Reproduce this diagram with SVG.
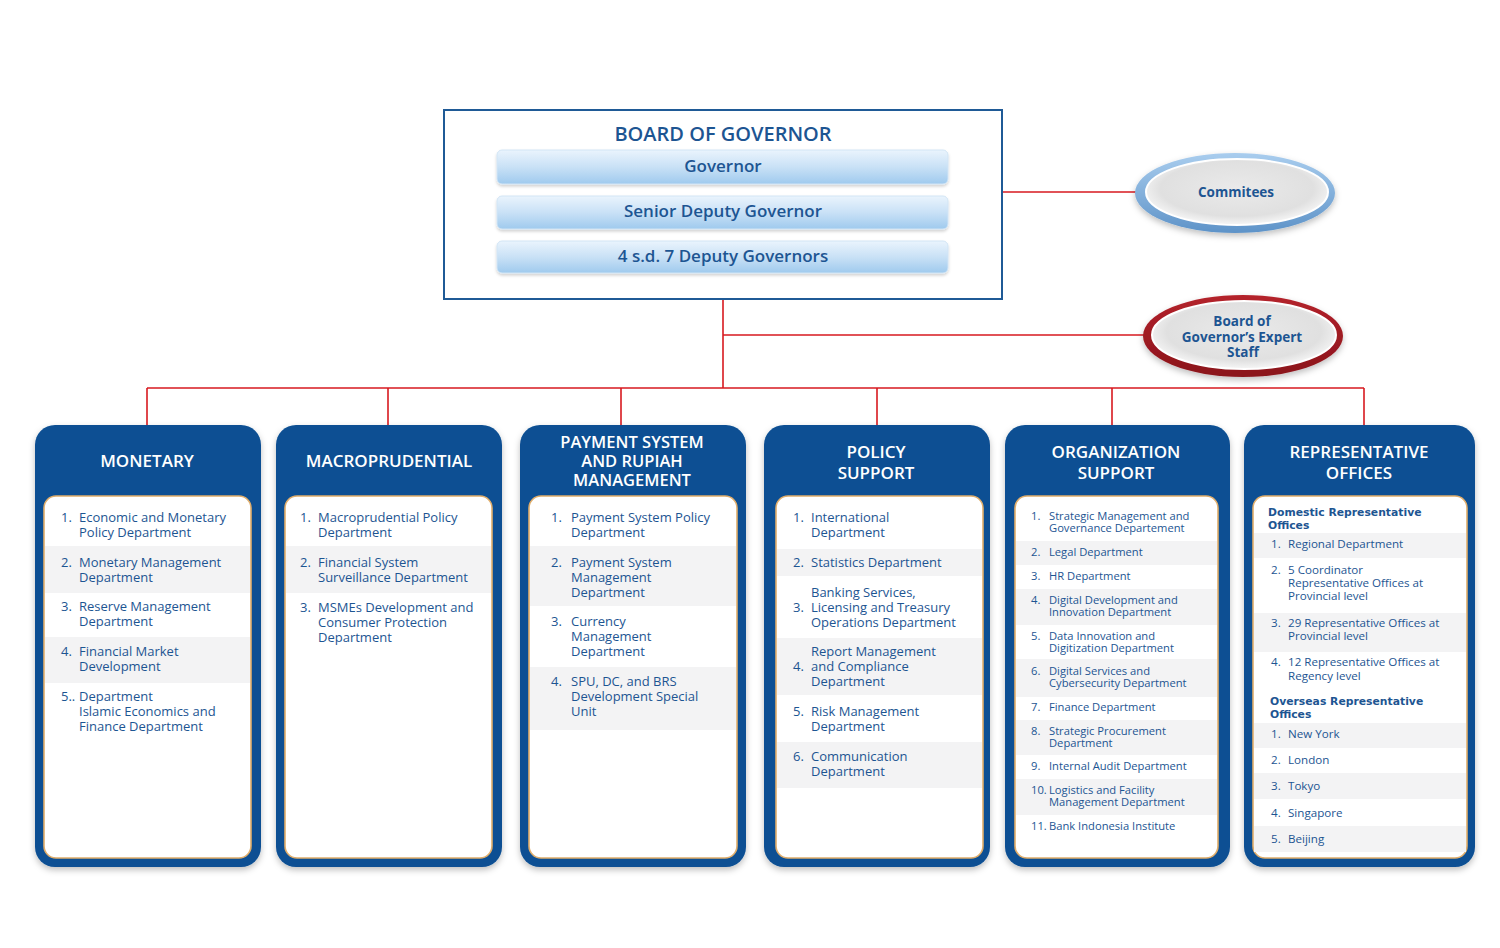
<svg xmlns="http://www.w3.org/2000/svg" width="1500" height="948" viewBox="0 0 1500 948">
<defs>
<style>
.it{font-family:"Open Sans","Liberation Sans",sans-serif;font-size:13px;fill:#1d5592}
.sm{font-family:"Open Sans","Liberation Sans",sans-serif;font-size:11.2px;fill:#1d5592}
.rp{font-family:"Open Sans","Liberation Sans",sans-serif;font-size:11.6px;fill:#1d5592}
.hd{font-family:"DejaVu Sans","Liberation Sans",sans-serif;font-size:10.8px;font-weight:bold;fill:#1d5592}
.ch{font-family:"Open Sans","Liberation Sans",sans-serif;font-size:17px;font-weight:600;fill:#ffffff;text-anchor:middle}
.ch3{font-family:"Open Sans","Liberation Sans",sans-serif;font-size:16.5px;font-weight:600;fill:#ffffff;text-anchor:middle}
.bt{font-family:"Open Sans","Liberation Sans",sans-serif;font-size:17px;font-weight:600;fill:#1d5592;text-anchor:middle}
.tt{font-family:"Open Sans","Liberation Sans",sans-serif;font-size:20px;font-weight:600;fill:#1d5592;text-anchor:middle}
.el{font-family:"Open Sans","Liberation Sans",sans-serif;font-size:13.5px;font-weight:bold;fill:#1d5592;text-anchor:middle}
.outer{fill:#0b4f93}
.inner{fill:#ffffff;stroke:#e0ad6a;stroke-width:1.6}
.band{fill:#f3f3f4}
.bar{fill:url(#barg);stroke:#d2e5f5;stroke-width:1}
.cn{stroke:#d7191f;stroke-width:1.6;fill:none}
</style>
<linearGradient id="barg" x1="0" y1="0" x2="0" y2="1">
<stop offset="0" stop-color="#eaf4fd"/>
<stop offset="0.5" stop-color="#c9e1f6"/>
<stop offset="1" stop-color="#9fcaee"/>
</linearGradient>
<radialGradient id="elin" cx="0.5" cy="0.45" r="0.6">
<stop offset="0" stop-color="#eaeaea"/>
<stop offset="0.7" stop-color="#e0e0e0"/>
<stop offset="1" stop-color="#ffffff"/>
</radialGradient>
<linearGradient id="blring" x1="0" y1="0" x2="0" y2="1">
<stop offset="0" stop-color="#a9cdee"/>
<stop offset="1" stop-color="#5e93c8"/>
</linearGradient>
<linearGradient id="rdring" x1="0" y1="0" x2="0" y2="1">
<stop offset="0" stop-color="#b4222b"/>
<stop offset="1" stop-color="#8a141b"/>
</linearGradient>
<filter id="sh" x="-10%" y="-10%" width="120%" height="125%">
<feDropShadow dx="0" dy="3" stdDeviation="3" flood-color="#000" flood-opacity="0.25"/>
</filter>
<filter id="bsh" x="-5%" y="-20%" width="110%" height="150%">
<feDropShadow dx="0" dy="2" stdDeviation="1.5" flood-color="#000" flood-opacity="0.18"/>
</filter>
</defs>
<rect width="1500" height="948" fill="#ffffff"/>

<g id="connectors">
<line class="cn" x1="722" y1="184" x2="722" y2="196"/>
<line class="cn" x1="722" y1="229" x2="722" y2="242"/>
<line class="cn" x1="1002" y1="192" x2="1137" y2="192"/>
<line class="cn" x1="723" y1="299" x2="723" y2="388"/>
<line class="cn" x1="723" y1="335" x2="1146" y2="335"/>
<line class="cn" x1="147" y1="388" x2="1364" y2="388"/>
<line class="cn" x1="147" y1="388" x2="147" y2="426"/>
<line class="cn" x1="388" y1="388" x2="388" y2="426"/>
<line class="cn" x1="621" y1="388" x2="621" y2="426"/>
<line class="cn" x1="877" y1="388" x2="877" y2="426"/>
<line class="cn" x1="1112" y1="388" x2="1112" y2="426"/>
<line class="cn" x1="1364" y1="388" x2="1364" y2="426"/>
</g>

<g id="board">
<rect x="444" y="110" width="558" height="189" fill="#ffffff" stroke="#1f5a96" stroke-width="2"/>
<text class="tt" x="723" y="141">BOARD OF GOVERNOR</text>
<rect class="bar" x="497" y="150" width="451" height="34" rx="5" filter="url(#bsh)"/>
<text class="bt" x="723" y="172">Governor</text>
<rect class="bar" x="497" y="196" width="451" height="33" rx="5" filter="url(#bsh)"/>
<text class="bt" x="723" y="217">Senior Deputy Governor</text>
<rect class="bar" x="497" y="241" width="451" height="32" rx="5" filter="url(#bsh)"/>
<text class="bt" x="723" y="262">4 s.d. 7 Deputy Governors</text>
</g>

<g id="committees">
<ellipse cx="1235" cy="193" rx="100" ry="40" fill="url(#blring)" filter="url(#sh)"/>
<ellipse cx="1237" cy="192" rx="91" ry="33" fill="url(#elin)" stroke="#ffffff" stroke-width="2"/>
<text class="el" x="1236" y="197">Commitees</text>
</g>

<g id="expert-staff">
<ellipse cx="1243" cy="336" rx="100" ry="41" fill="url(#rdring)" filter="url(#sh)"/>
<ellipse cx="1244" cy="335" rx="92" ry="34" fill="url(#elin)" stroke="#ffffff" stroke-width="2"/>
<text class="el" x="1242" y="326">Board of</text>
<text class="el" x="1242" y="342">Governor’s Expert</text>
<text class="el" x="1243" y="357">Staff</text>
</g>

<g id="monetary">
<rect class="outer" x="35" y="425" width="226" height="442" rx="20" filter="url(#sh)"/>
<text class="ch" x="147" y="467">MONETARY</text>
<rect class="inner" x="44" y="496" width="207" height="362" rx="12"/>
<rect class="band" x="45" y="546" width="205" height="47"/>
<rect class="band" x="45" y="637" width="205" height="46"/>
<text class="it" x="61" y="522">1.</text><text class="it" x="79" y="522">Economic and Monetary</text><text class="it" x="79" y="537">Policy Department</text>
<text class="it" x="61" y="567">2.</text><text class="it" x="79" y="567">Monetary Management</text><text class="it" x="79" y="582">Department</text>
<text class="it" x="61" y="611">3.</text><text class="it" x="79" y="611">Reserve Management</text><text class="it" x="79" y="626">Department</text>
<text class="it" x="61" y="656">4.</text><text class="it" x="79" y="656">Financial Market</text><text class="it" x="79" y="671">Development</text>
<text class="it" x="61" y="701">5..</text><text class="it" x="79" y="701">Department</text><text class="it" x="79" y="716">Islamic Economics and</text><text class="it" x="79" y="731">Finance Department</text>
</g>

<g id="macroprudential">
<rect class="outer" x="276" y="425" width="226" height="442" rx="20" filter="url(#sh)"/>
<text class="ch" x="389" y="467">MACROPRUDENTIAL</text>
<rect class="inner" x="285" y="496" width="207" height="362" rx="12"/>
<rect class="band" x="286" y="546" width="205" height="47"/>
<text class="it" x="300" y="522">1.</text><text class="it" x="318" y="522">Macroprudential Policy</text><text class="it" x="318" y="537">Department</text>
<text class="it" x="300" y="567">2.</text><text class="it" x="318" y="567">Financial System</text><text class="it" x="318" y="582">Surveillance Department</text>
<text class="it" x="300" y="612">3.</text><text class="it" x="318" y="612">MSMEs Development and</text><text class="it" x="318" y="627">Consumer Protection</text><text class="it" x="318" y="642">Department</text>
</g>

<g id="payment-system">
<rect class="outer" x="520" y="425" width="226" height="442" rx="20" filter="url(#sh)"/>
<text class="ch3" x="632" y="448">PAYMENT SYSTEM</text>
<text class="ch3" x="632" y="467">AND RUPIAH</text>
<text class="ch3" x="632" y="486">MANAGEMENT</text>
<rect class="inner" x="529" y="496" width="208" height="362" rx="12"/>
<rect class="band" x="530" y="546" width="206" height="60"/>
<rect class="band" x="530" y="667" width="206" height="63"/>
<text class="it" x="551" y="522">1.</text><text class="it" x="571" y="522">Payment System Policy</text><text class="it" x="571" y="537">Department</text>
<text class="it" x="551" y="567">2.</text><text class="it" x="571" y="567">Payment System</text><text class="it" x="571" y="582">Management</text><text class="it" x="571" y="597">Department</text>
<text class="it" x="551" y="626">3.</text><text class="it" x="571" y="626">Currency</text><text class="it" x="571" y="641">Management</text><text class="it" x="571" y="656">Department</text>
<text class="it" x="551" y="686">4.</text><text class="it" x="571" y="686">SPU, DC, and BRS</text><text class="it" x="571" y="701">Development Special</text><text class="it" x="571" y="716">Unit</text>
</g>

<g id="policy-support">
<rect class="outer" x="764" y="425" width="226" height="442" rx="20" filter="url(#sh)"/>
<text class="ch" x="876" y="458">POLICY</text>
<text class="ch" x="876" y="479">SUPPORT</text>
<rect class="inner" x="776" y="496" width="207" height="362" rx="12"/>
<rect class="band" x="777" y="549" width="205" height="27"/>
<rect class="band" x="777" y="638" width="205" height="57"/>
<rect class="band" x="777" y="742" width="205" height="46"/>
<text class="it" x="793" y="522">1.</text><text class="it" x="811" y="522">International</text><text class="it" x="811" y="537">Department</text>
<text class="it" x="793" y="567">2.</text><text class="it" x="811" y="567">Statistics Department</text>
<text class="it" x="811" y="597">Banking Services,</text><text class="it" x="793" y="612">3.</text><text class="it" x="811" y="612">Licensing and Treasury</text><text class="it" x="811" y="627">Operations Department</text>
<text class="it" x="811" y="656">Report Management</text><text class="it" x="793" y="671">4.</text><text class="it" x="811" y="671">and Compliance</text><text class="it" x="811" y="686">Department</text>
<text class="it" x="793" y="716">5.</text><text class="it" x="811" y="716">Risk Management</text><text class="it" x="811" y="731">Department</text>
<text class="it" x="793" y="761">6.</text><text class="it" x="811" y="761">Communication</text><text class="it" x="811" y="776">Department</text>
</g>

<g id="organization-support">
<rect class="outer" x="1005" y="425" width="225" height="442" rx="20" filter="url(#sh)"/>
<text class="ch" x="1116" y="458">ORGANIZATION</text>
<text class="ch" x="1116" y="479">SUPPORT</text>
<rect class="inner" x="1015" y="496" width="203" height="362" rx="12"/>
<rect class="band" x="1016" y="541" width="201" height="24"/>
<rect class="band" x="1016" y="589" width="201" height="36"/>
<rect class="band" x="1016" y="659" width="201" height="38"/>
<rect class="band" x="1016" y="720" width="201" height="35"/>
<rect class="band" x="1016" y="779" width="201" height="36"/>
<text class="sm" x="1031" y="520">1.</text><text class="sm" x="1049" y="520">Strategic Management and</text><text class="sm" x="1049" y="532">Governance Departement</text>
<text class="sm" x="1031" y="556">2.</text><text class="sm" x="1049" y="556">Legal Department</text>
<text class="sm" x="1031" y="580">3.</text><text class="sm" x="1049" y="580">HR Department</text>
<text class="sm" x="1031" y="604">4.</text><text class="sm" x="1049" y="604">Digital Development and</text><text class="sm" x="1049" y="616">Innovation Department</text>
<text class="sm" x="1031" y="640">5.</text><text class="sm" x="1049" y="640">Data Innovation and</text><text class="sm" x="1049" y="652">Digitization Department</text>
<text class="sm" x="1031" y="675">6.</text><text class="sm" x="1049" y="675">Digital Services and</text><text class="sm" x="1049" y="687">Cybersecurity Department</text>
<text class="sm" x="1031" y="711">7.</text><text class="sm" x="1049" y="711">Finance Department</text>
<text class="sm" x="1031" y="735">8.</text><text class="sm" x="1049" y="735">Strategic Procurement</text><text class="sm" x="1049" y="747">Department</text>
<text class="sm" x="1031" y="770">9.</text><text class="sm" x="1049" y="770">Internal Audit Department</text>
<text class="sm" x="1031" y="794">10.</text><text class="sm" x="1049" y="794">Logistics and Facility</text><text class="sm" x="1049" y="806">Management Department</text>
<text class="sm" x="1031" y="830">11.</text><text class="sm" x="1049" y="830">Bank Indonesia Institute</text>
</g>

<g id="representative-offices">
<rect class="outer" x="1244" y="425" width="231" height="442" rx="20" filter="url(#sh)"/>
<text class="ch" x="1359" y="458">REPRESENTATIVE</text>
<text class="ch" x="1359" y="479">OFFICES</text>
<rect class="inner" x="1253" y="496" width="214" height="362" rx="12"/>
<rect class="band" x="1254" y="533" width="212" height="25"/>
<rect class="band" x="1254" y="613" width="212" height="39"/>
<rect class="band" x="1254" y="723" width="212" height="25"/>
<rect class="band" x="1254" y="773" width="212" height="26"/>
<rect class="band" x="1254" y="826" width="212" height="26"/>
<text class="hd" x="1268" y="516">Domestic Representative</text><text class="hd" x="1268" y="529">Offices</text>
<text class="rp" x="1271" y="548">1.</text><text class="rp" x="1288" y="548">Regional Department</text>
<text class="rp" x="1271" y="574">2.</text><text class="rp" x="1288" y="574">5 Coordinator</text><text class="rp" x="1288" y="587">Representative Offices at</text><text class="rp" x="1288" y="600">Provincial level</text>
<text class="rp" x="1271" y="627">3.</text><text class="rp" x="1288" y="627">29 Representative Offices at</text><text class="rp" x="1288" y="640">Provincial level</text>
<text class="rp" x="1271" y="666">4.</text><text class="rp" x="1288" y="666">12 Representative Offices at</text><text class="rp" x="1288" y="680">Regency level</text>
<text class="hd" x="1270" y="705">Overseas Representative</text><text class="hd" x="1270" y="718">Offices</text>
<text class="rp" x="1271" y="738">1.</text><text class="rp" x="1288" y="738">New York</text>
<text class="rp" x="1271" y="764">2.</text><text class="rp" x="1288" y="764">London</text>
<text class="rp" x="1271" y="790">3.</text><text class="rp" x="1288" y="790">Tokyo</text>
<text class="rp" x="1271" y="817">4.</text><text class="rp" x="1288" y="817">Singapore</text>
<text class="rp" x="1271" y="843">5.</text><text class="rp" x="1288" y="843">Beijing</text>
</g>
</svg>
